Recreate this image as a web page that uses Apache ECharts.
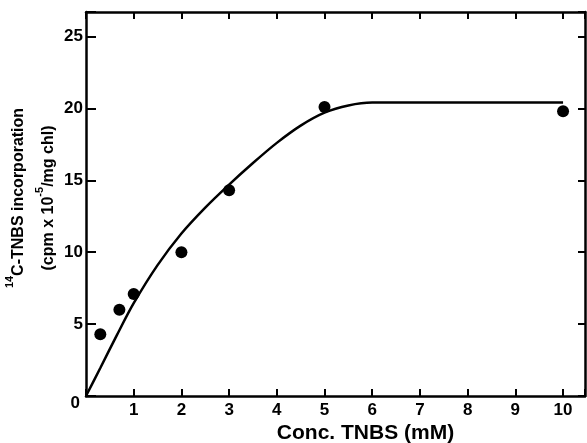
<!DOCTYPE html>
<html>
<head>
<meta charset="utf-8">
<script src="https://cdn.jsdelivr.net/npm/echarts@6/dist/echarts.min.js"></script>
<style>
  html, body { margin: 0; padding: 0; background: #fff; }
  #chart { width: 587px; height: 443px; }
</style>
</head>
<body>
<div id="chart"></div>
<script>
  // measured points
  let concX = [0.3, 0.7, 1, 2, 3, 5, 10]
  let incorpY = [4.3, 6.0, 7.1, 10.0, 14.3, 20.1, 19.8]
  // fitted curve
  let curveX = [0, 0.3, 0.65, 1, 1.5, 2, 2.5, 3, 3.5, 4, 4.5, 5, 5.5, 6, 7, 8, 9, 10]
  let curveY = [0, 1.95, 4.25, 6.45, 9.1, 11.3, 13.1, 14.7, 16.2, 17.6, 18.8, 19.7, 20.2, 20.4, 20.4, 20.4, 20.4, 20.4]

  let chart = echarts.init(document.getElementById('chart'))
  let font = 'Liberation Sans'
  let ink = '#000'
  let xMax = 10.46
  let yMax = 26.7

  let options = {
    animation: false,
    backgroundColor: '#fff',
    grid: { left: 86, right: 2, top: 12, bottom: 47, outerBoundsMode: 'none', containLabel: false },
    xAxis: [
      {
        type: 'value',
        min: 0,
        max: xMax,
        interval: 1,
        name: 'Conc. TNBS (mM)',
        nameLocation: 'middle',
        nameGap: 27,
        nameMoveOverlap: false,
        nameTextStyle: { fontFamily: font, fontSize: 21, fontWeight: 'bold', color: ink, padding: [0, 0, 0, 60] },
        axisLine: { onZero: false, lineStyle: { color: ink, width: 2.5 } },
        axisTick: { inside: true, length: 7, lineStyle: { color: ink, width: 2 } },
        axisLabel: {
          margin: 6,
          fontFamily: font, fontSize: 17, fontWeight: 'bold', color: ink,
          // the corner 0 is drawn once, by the y axis
          formatter: function (v) { return v > 0 && v <= 10 && Number.isInteger(v) ? String(v) : '' }
        },
        splitLine: { show: false }
      },
      {
        type: 'value',
        position: 'top',
        min: 0,
        max: xMax,
        interval: 1,
        axisLine: { show: true, onZero: false, lineStyle: { color: ink, width: 2.5 } },
        axisTick: { inside: true, length: 7, lineStyle: { color: ink, width: 2 } },
        axisLabel: { show: false },
        splitLine: { show: false }
      }
    ],
    yAxis: [
      {
        type: 'value',
        min: 0,
        max: yMax,
        interval: 5,
        name: '{sup|14}{t|C-TNBS incorporation}\n{t|(cpm x 10}{sup|-5}{t|/mg chl)}',
        nameLocation: 'middle',
        nameRotate: 90,
        nameGap: 22,
        nameMoveOverlap: false,
        nameTextStyle: {
          fontFamily: font, fontSize: 16, fontWeight: 'bold', color: ink, lineHeight: 30,
          padding: [0, 0, 0, 12],
          rich: {
            t: { fontFamily: font, fontSize: 16, fontWeight: 'bold', color: ink, lineHeight: 30 },
            sup: { fontFamily: font, fontSize: 11, fontWeight: 'bold', color: ink, verticalAlign: 'top', lineHeight: 20 }
          }
        },
        axisLine: { show: true, onZero: false, lineStyle: { color: ink, width: 2.5 } },
        axisTick: { inside: true, length: 10, lineStyle: { color: ink, width: 2 } },
        axisLabel: {
          margin: 3,
          fontFamily: font, fontSize: 17, fontWeight: 'bold', color: ink,
          formatter: function (v) {
            if (v === 0) return '{z|0}'
            return Number.isInteger(v) ? String(v) : ''
          },
          rich: {
            z: { fontFamily: font, fontSize: 17, fontWeight: 'bold', color: ink, padding: [14, 3, 0, 0] }
          }
        },
        splitLine: { show: false }
      },
      {
        type: 'value',
        position: 'right',
        min: 0,
        max: yMax,
        interval: 5,
        axisLine: { show: true, onZero: false, lineStyle: { color: ink, width: 2.5 } },
        axisTick: { inside: true, length: 7, lineStyle: { color: ink, width: 2 } },
        axisLabel: { show: false },
        splitLine: { show: false }
      }
    ],
    series: [
      {
        name: 'fit',
        type: 'line',
        smooth: 0.3,
        symbol: 'none',
        lineStyle: { color: ink, width: 2.5 },
        data: curveX.map(function (x, i) { return [x, curveY[i]] }),
        z: 2
      },
      {
        name: 'measured',
        type: 'scatter',
        symbol: 'circle',
        symbolSize: 12,
        itemStyle: { color: ink, opacity: 1 },
        data: concX.map(function (x, i) { return [x, incorpY[i]] }),
        z: 3
      }
    ]
  }
  chart.setOption(options)
</script>
</body>
</html>
